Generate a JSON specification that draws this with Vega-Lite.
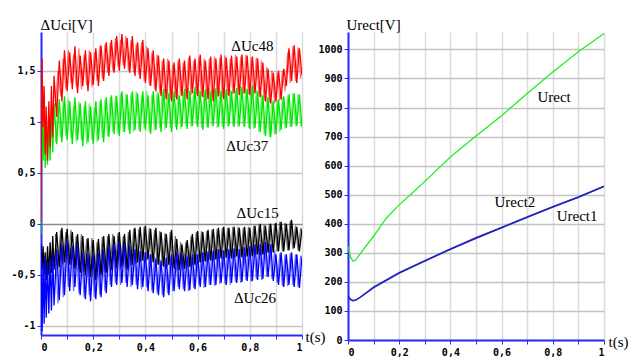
{
  "$schema": "https://vega.github.io/schema/vega-lite/v6.json",
  "background": "white",
  "padding": {"left": 10, "top": 17, "right": 0, "bottom": 0},
  "spacing": 46,
  "bounds": "flush",
  "resolve": {"scale": {"color": "independent"}},
  "config": {
    "view": {"stroke": null},
    "axis": {
      "domainColor": "#2b2bff", "domainWidth": 2, "tickColor": "#2b2bff", "tickSize": 4,
      "labelFont": "DejaVu Sans Mono", "labelFontWeight": "bold", "labelFontSize": 10, "labelColor": "#000000",
      "labelPadding": 2, "gridWidth": 1.5, "labelOverlap": false,
      "titleFont": "'Liberation Serif', 'Times New Roman', serif", "titleFontSize": 15, "titleFontWeight": "normal", "titleColor": "#000000"
    },
    "text": {"font": "'Liberation Serif', 'Times New Roman', serif", "fontSize": 15, "color": "#000000"}
  },
  "hconcat": [
    {
      "width": 261, "height": 303,
      "encoding": {
        "x": {"field": "t", "type": "quantitative",
          "scale": {"domain": [0, 1], "nice": false},
          "axis": {"values": [0,0.1,0.2,0.3,0.4,0.5,0.6,0.7,0.8,0.9,1],
            "labelExpr": "indexof(['0','0.2','0.4','0.6','0.8','1'], toString(datum.value)) >= 0 ? replace(toString(datum.value), '.', ',') : ''",
            "grid": true, "gridColor": "#dadada", "labelPadding": 3, "labelOverlap": false,
            "title": "t(s)", "titleX": 264, "titleY": 1, "titleAlign": "left", "titleBaseline": "middle", "titleAngle": 0}},
        "y": {"field": "v", "type": "quantitative",
          "scale": {"domain": [-1.09, 1.88], "nice": false, "zero": false},
          "axis": {"values": [-1, -0.5, 0, 0.5, 1, 1.5],
            "labelExpr": "replace(toString(datum.value), '.', ',')", "labelOverlap": false,
            "grid": true, "gridColor": {"condition": {"test": "datum.value === 0", "value": "#8a8a8a"}, "value": "#c4c4c4"},
            "title": "ΔUci[V]", "titleX": -1, "titleY": -3, "titleAlign": "left", "titleBaseline": "alphabetic", "titleAngle": 0}}
      },
      "layer": [
        {
          "data": {"values": [
            {"t":0.055,"a2":1.15,"b2":0.8,"c2":-0.1,"d2":-0.28},
            {"t":0.065,"a2":1.5,"b2":1.15,"c2":-0.44,"d2":-0.78},
            {"t":0.075,"a2":1.25,"b2":0.85,"c2":-0.06,"d2":-0.22},
            {"t":0.085,"a2":1.62,"b2":1.2,"c2":-0.4,"d2":-0.72},
            {"t":0.095,"a2":1.32,"b2":0.86,"c2":-0.08,"d2":-0.2},
            {"t":0.105,"a2":1.7,"b2":1.22,"c2":-0.38,"d2":-0.62},
            {"t":0.115,"a2":1.38,"b2":0.84,"c2":-0.06,"d2":-0.24},
            {"t":0.125,"a2":1.66,"b2":1.16,"c2":-0.42,"d2":-0.66},
            {"t":0.135,"a2":1.34,"b2":0.8,"c2":-0.12,"d2":-0.22},
            {"t":0.145,"a2":1.72,"b2":1.2,"c2":-0.45,"d2":-0.68},
            {"t":0.155,"a2":1.32,"b2":0.82,"c2":-0.1,"d2":-0.26},
            {"t":0.165,"a2":1.66,"b2":1.16,"c2":-0.47,"d2":-0.72},
            {"t":0.175,"a2":1.36,"b2":0.78,"c2":-0.15,"d2":-0.3},
            {"t":0.185,"a2":1.7,"b2":1.18,"c2":-0.5,"d2":-0.7},
            {"t":0.195,"a2":1.34,"b2":0.82,"c2":-0.14,"d2":-0.32},
            {"t":0.205,"a2":1.68,"b2":1.14,"c2":-0.52,"d2":-0.72},
            {"t":0.215,"a2":1.4,"b2":0.8,"c2":-0.18,"d2":-0.3},
            {"t":0.225,"a2":1.74,"b2":1.2,"c2":-0.5,"d2":-0.7},
            {"t":0.235,"a2":1.42,"b2":0.84,"c2":-0.13,"d2":-0.26},
            {"t":0.245,"a2":1.76,"b2":1.22,"c2":-0.47,"d2":-0.66},
            {"t":0.255,"a2":1.48,"b2":0.86,"c2":-0.12,"d2":-0.22},
            {"t":0.265,"a2":1.78,"b2":1.24,"c2":-0.44,"d2":-0.6},
            {"t":0.275,"a2":1.5,"b2":0.9,"c2":-0.1,"d2":-0.2},
            {"t":0.285,"a2":1.82,"b2":1.26,"c2":-0.42,"d2":-0.58},
            {"t":0.295,"a2":1.54,"b2":0.88,"c2":-0.09,"d2":-0.2},
            {"t":0.305,"a2":1.8,"b2":1.28,"c2":-0.44,"d2":-0.6},
            {"t":0.315,"a2":1.55,"b2":0.9,"c2":-0.12,"d2":-0.22},
            {"t":0.325,"a2":1.84,"b2":1.27,"c2":-0.43,"d2":-0.58},
            {"t":0.335,"a2":1.5,"b2":0.92,"c2":-0.08,"d2":-0.24},
            {"t":0.345,"a2":1.8,"b2":1.28,"c2":-0.41,"d2":-0.62},
            {"t":0.355,"a2":1.48,"b2":0.9,"c2":-0.05,"d2":-0.24},
            {"t":0.365,"a2":1.76,"b2":1.3,"c2":-0.39,"d2":-0.6},
            {"t":0.375,"a2":1.46,"b2":0.92,"c2":-0.05,"d2":-0.26},
            {"t":0.385,"a2":1.78,"b2":1.26,"c2":-0.37,"d2":-0.64},
            {"t":0.395,"a2":1.4,"b2":0.94,"c2":-0.03,"d2":-0.28},
            {"t":0.405,"a2":1.74,"b2":1.3,"c2":-0.36,"d2":-0.62},
            {"t":0.415,"a2":1.36,"b2":0.9,"c2":-0.04,"d2":-0.3},
            {"t":0.425,"a2":1.68,"b2":1.27,"c2":-0.37,"d2":-0.66},
            {"t":0.435,"a2":1.32,"b2":0.92,"c2":-0.06,"d2":-0.32},
            {"t":0.445,"a2":1.66,"b2":1.3,"c2":-0.4,"d2":-0.68},
            {"t":0.455,"a2":1.28,"b2":0.94,"c2":-0.07,"d2":-0.35},
            {"t":0.465,"a2":1.6,"b2":1.3,"c2":-0.41,"d2":-0.7},
            {"t":0.475,"a2":1.24,"b2":0.92,"c2":-0.09,"d2":-0.34},
            {"t":0.485,"a2":1.62,"b2":1.32,"c2":-0.42,"d2":-0.68},
            {"t":0.495,"a2":1.22,"b2":0.94,"c2":-0.08,"d2":-0.32},
            {"t":0.505,"a2":1.56,"b2":1.28,"c2":-0.42,"d2":-0.66},
            {"t":0.515,"a2":1.24,"b2":0.95,"c2":-0.12,"d2":-0.3},
            {"t":0.525,"a2":1.6,"b2":1.3,"c2":-0.46,"d2":-0.62},
            {"t":0.535,"a2":1.26,"b2":0.93,"c2":-0.18,"d2":-0.28},
            {"t":0.545,"a2":1.58,"b2":1.3,"c2":-0.45,"d2":-0.64},
            {"t":0.555,"a2":1.24,"b2":0.96,"c2":-0.18,"d2":-0.3},
            {"t":0.565,"a2":1.63,"b2":1.33,"c2":-0.43,"d2":-0.66},
            {"t":0.575,"a2":1.26,"b2":0.95,"c2":-0.12,"d2":-0.32},
            {"t":0.585,"a2":1.6,"b2":1.3,"c2":-0.41,"d2":-0.63},
            {"t":0.595,"a2":1.27,"b2":0.97,"c2":-0.08,"d2":-0.3},
            {"t":0.605,"a2":1.64,"b2":1.32,"c2":-0.38,"d2":-0.6},
            {"t":0.615,"a2":1.25,"b2":0.94,"c2":-0.07,"d2":-0.27},
            {"t":0.625,"a2":1.62,"b2":1.3,"c2":-0.37,"d2":-0.63},
            {"t":0.635,"a2":1.23,"b2":0.95,"c2":-0.07,"d2":-0.28},
            {"t":0.645,"a2":1.62,"b2":1.33,"c2":-0.35,"d2":-0.6},
            {"t":0.655,"a2":1.22,"b2":0.96,"c2":-0.06,"d2":-0.27},
            {"t":0.665,"a2":1.64,"b2":1.31,"c2":-0.36,"d2":-0.61},
            {"t":0.675,"a2":1.24,"b2":0.94,"c2":-0.05,"d2":-0.25},
            {"t":0.685,"a2":1.63,"b2":1.33,"c2":-0.33,"d2":-0.59},
            {"t":0.695,"a2":1.24,"b2":0.95,"c2":-0.04,"d2":-0.26},
            {"t":0.705,"a2":1.65,"b2":1.31,"c2":-0.34,"d2":-0.59},
            {"t":0.715,"a2":1.26,"b2":0.95,"c2":-0.04,"d2":-0.24},
            {"t":0.725,"a2":1.62,"b2":1.32,"c2":-0.33,"d2":-0.6},
            {"t":0.735,"a2":1.27,"b2":0.96,"c2":-0.03,"d2":-0.25},
            {"t":0.745,"a2":1.66,"b2":1.31,"c2":-0.33,"d2":-0.57},
            {"t":0.755,"a2":1.27,"b2":0.95,"c2":-0.03,"d2":-0.24},
            {"t":0.765,"a2":1.64,"b2":1.35,"c2":-0.32,"d2":-0.58},
            {"t":0.775,"a2":1.27,"b2":0.96,"c2":-0.04,"d2":-0.23},
            {"t":0.785,"a2":1.66,"b2":1.33,"c2":-0.33,"d2":-0.55},
            {"t":0.795,"a2":1.27,"b2":0.94,"c2":-0.03,"d2":-0.22},
            {"t":0.805,"a2":1.63,"b2":1.34,"c2":-0.31,"d2":-0.57},
            {"t":0.815,"a2":1.26,"b2":0.93,"c2":-0.02,"d2":-0.2},
            {"t":0.825,"a2":1.63,"b2":1.32,"c2":-0.3,"d2":-0.54},
            {"t":0.835,"a2":1.25,"b2":0.9,"c2":-0.01,"d2":-0.19},
            {"t":0.845,"a2":1.6,"b2":1.28,"c2":-0.31,"d2":-0.55},
            {"t":0.855,"a2":1.21,"b2":0.87,"c2":-0.01,"d2":-0.18},
            {"t":0.865,"a2":1.54,"b2":1.25,"c2":-0.29,"d2":-0.52},
            {"t":0.875,"a2":1.19,"b2":0.85,"c2":0.0,"d2":-0.19},
            {"t":0.885,"a2":1.5,"b2":1.22,"c2":-0.28,"d2":-0.54},
            {"t":0.895,"a2":1.18,"b2":0.87,"c2":0.0,"d2":-0.25},
            {"t":0.905,"a2":1.48,"b2":1.21,"c2":-0.27,"d2":-0.58},
            {"t":0.915,"a2":1.21,"b2":0.9,"c2":0.02,"d2":-0.29},
            {"t":0.925,"a2":1.5,"b2":1.24,"c2":-0.27,"d2":-0.61},
            {"t":0.935,"a2":1.3,"b2":0.93,"c2":0.01,"d2":-0.3},
            {"t":0.945,"a2":1.68,"b2":1.26,"c2":-0.26,"d2":-0.61},
            {"t":0.955,"a2":1.38,"b2":0.95,"c2":0.03,"d2":-0.29},
            {"t":0.965,"a2":1.74,"b2":1.28,"c2":-0.25,"d2":-0.6},
            {"t":0.975,"a2":1.4,"b2":0.96,"c2":-0.02,"d2":-0.3},
            {"t":0.985,"a2":1.73,"b2":1.27,"c2":-0.26,"d2":-0.62},
            {"t":0.995,"a2":1.42,"b2":0.96,"c2":-0.04,"d2":-0.31}
          ]},
          "transform": [{"fold": ["b2", "a2", "c2", "d2"], "as": ["s", "v"]}],
          "mark": {"type": "line", "strokeWidth": 1.2, "opacity": 0.55, "clip": true},
          "encoding": {
            "color": {"field": "s", "type": "nominal",
              "scale": {"domain": ["a", "b", "c", "d", "a2", "b2", "c2", "d2"], "range": ["#ff0000", "#00e600", "#000000", "#0000ff", "#ff0000", "#00e600", "#000000", "#0000ff"]},
              "legend": null}
          }
        },
        {
          "data": {"values": [
            {"t":0,"a":0.02,"b":-0.1,"c":-0.2,"d":-0.2},
            {"t":0.004,"a":1.62,"b":1.3,"c":-0.45,"d":-1.05},
            {"t":0.008,"a":0.95,"b":0.62,"c":-0.22,"d":-0.38},
            {"t":0.012,"a":1.35,"b":1.05,"c":-0.5,"d":-0.98},
            {"t":0.016,"a":0.68,"b":0.55,"c":-0.28,"d":-0.32},
            {"t":0.02,"a":1.15,"b":0.9,"c":-0.55,"d":-0.92},
            {"t":0.025,"a":0.62,"b":0.58,"c":-0.22,"d":-0.4},
            {"t":0.03,"a":1.2,"b":1.05,"c":-0.5,"d":-0.88},
            {"t":0.035,"a":0.75,"b":0.62,"c":-0.18,"d":-0.33},
            {"t":0.04,"a":1.35,"b":1.12,"c":-0.48,"d":-0.85},
            {"t":0.045,"a":0.85,"b":0.7,"c":-0.12,"d":-0.3},
            {"t":0.05,"a":1.45,"b":1.18,"c":-0.45,"d":-0.8},
            {"t":0.06,"a":1.05,"b":0.78,"c":-0.08,"d":-0.25},
            {"t":0.07,"a":1.6,"b":1.22,"c":-0.42,"d":-0.75},
            {"t":0.08,"a":1.2,"b":0.8,"c":-0.04,"d":-0.2},
            {"t":0.09,"a":1.7,"b":1.25,"c":-0.38,"d":-0.7},
            {"t":0.1,"a":1.3,"b":0.82,"c":-0.05,"d":-0.17},
            {"t":0.11,"a":1.68,"b":1.2,"c":-0.4,"d":-0.66},
            {"t":0.12,"a":1.32,"b":0.78,"c":-0.08,"d":-0.22},
            {"t":0.13,"a":1.74,"b":1.24,"c":-0.44,"d":-0.62},
            {"t":0.14,"a":1.28,"b":0.82,"c":-0.1,"d":-0.2},
            {"t":0.15,"a":1.65,"b":1.18,"c":-0.48,"d":-0.7},
            {"t":0.16,"a":1.35,"b":0.76,"c":-0.12,"d":-0.28},
            {"t":0.17,"a":1.7,"b":1.2,"c":-0.5,"d":-0.74},
            {"t":0.18,"a":1.3,"b":0.8,"c":-0.14,"d":-0.3},
            {"t":0.19,"a":1.68,"b":1.15,"c":-0.52,"d":-0.76},
            {"t":0.2,"a":1.36,"b":0.78,"c":-0.16,"d":-0.3},
            {"t":0.21,"a":1.72,"b":1.2,"c":-0.55,"d":-0.74},
            {"t":0.22,"a":1.35,"b":0.82,"c":-0.15,"d":-0.28},
            {"t":0.23,"a":1.75,"b":1.22,"c":-0.5,"d":-0.72},
            {"t":0.24,"a":1.4,"b":0.8,"c":-0.12,"d":-0.26},
            {"t":0.25,"a":1.78,"b":1.24,"c":-0.48,"d":-0.68},
            {"t":0.26,"a":1.45,"b":0.85,"c":-0.1,"d":-0.22},
            {"t":0.27,"a":1.8,"b":1.26,"c":-0.45,"d":-0.62},
            {"t":0.28,"a":1.48,"b":0.88,"c":-0.12,"d":-0.2},
            {"t":0.29,"a":1.84,"b":1.25,"c":-0.43,"d":-0.6},
            {"t":0.3,"a":1.5,"b":0.86,"c":-0.08,"d":-0.18},
            {"t":0.31,"a":1.86,"b":1.3,"c":-0.42,"d":-0.58},
            {"t":0.32,"a":1.52,"b":0.9,"c":-0.1,"d":-0.2},
            {"t":0.33,"a":1.82,"b":1.27,"c":-0.45,"d":-0.62},
            {"t":0.34,"a":1.48,"b":0.88,"c":-0.06,"d":-0.22},
            {"t":0.35,"a":1.84,"b":1.3,"c":-0.4,"d":-0.6},
            {"t":0.36,"a":1.45,"b":0.92,"c":-0.04,"d":-0.25},
            {"t":0.37,"a":1.78,"b":1.28,"c":-0.38,"d":-0.64},
            {"t":0.38,"a":1.42,"b":0.9,"c":-0.03,"d":-0.27},
            {"t":0.39,"a":1.8,"b":1.3,"c":-0.36,"d":-0.62},
            {"t":0.4,"a":1.38,"b":0.92,"c":-0.02,"d":-0.28},
            {"t":0.41,"a":1.72,"b":1.26,"c":-0.35,"d":-0.66},
            {"t":0.42,"a":1.35,"b":0.88,"c":-0.05,"d":-0.3},
            {"t":0.43,"a":1.7,"b":1.3,"c":-0.38,"d":-0.68},
            {"t":0.44,"a":1.3,"b":0.92,"c":-0.04,"d":-0.34},
            {"t":0.45,"a":1.65,"b":1.28,"c":-0.4,"d":-0.7},
            {"t":0.46,"a":1.25,"b":0.9,"c":-0.08,"d":-0.36},
            {"t":0.47,"a":1.62,"b":1.32,"c":-0.42,"d":-0.72},
            {"t":0.48,"a":1.22,"b":0.94,"c":-0.1,"d":-0.33},
            {"t":0.49,"a":1.6,"b":1.28,"c":-0.4,"d":-0.7},
            {"t":0.5,"a":1.2,"b":0.9,"c":-0.06,"d":-0.3},
            {"t":0.51,"a":1.58,"b":1.3,"c":-0.44,"d":-0.66},
            {"t":0.52,"a":1.22,"b":0.92,"c":-0.15,"d":-0.28},
            {"t":0.53,"a":1.62,"b":1.26,"c":-0.45,"d":-0.64},
            {"t":0.54,"a":1.25,"b":0.95,"c":-0.2,"d":-0.3},
            {"t":0.55,"a":1.6,"b":1.32,"c":-0.44,"d":-0.66},
            {"t":0.56,"a":1.22,"b":0.93,"c":-0.16,"d":-0.32},
            {"t":0.57,"a":1.65,"b":1.3,"c":-0.42,"d":-0.65},
            {"t":0.58,"a":1.28,"b":0.96,"c":-0.1,"d":-0.3},
            {"t":0.59,"a":1.62,"b":1.34,"c":-0.4,"d":-0.64},
            {"t":0.6,"a":1.25,"b":0.95,"c":-0.07,"d":-0.3},
            {"t":0.61,"a":1.66,"b":1.3,"c":-0.38,"d":-0.62},
            {"t":0.62,"a":1.24,"b":0.92,"c":-0.08,"d":-0.28},
            {"t":0.63,"a":1.6,"b":1.32,"c":-0.37,"d":-0.62},
            {"t":0.64,"a":1.22,"b":0.94,"c":-0.06,"d":-0.27},
            {"t":0.65,"a":1.64,"b":1.3,"c":-0.36,"d":-0.6},
            {"t":0.66,"a":1.2,"b":0.96,"c":-0.05,"d":-0.26},
            {"t":0.67,"a":1.62,"b":1.33,"c":-0.35,"d":-0.6},
            {"t":0.68,"a":1.25,"b":0.95,"c":-0.04,"d":-0.25},
            {"t":0.69,"a":1.66,"b":1.3,"c":-0.34,"d":-0.58},
            {"t":0.7,"a":1.22,"b":0.93,"c":-0.03,"d":-0.26},
            {"t":0.71,"a":1.63,"b":1.32,"c":-0.33,"d":-0.6},
            {"t":0.72,"a":1.25,"b":0.96,"c":-0.04,"d":-0.25},
            {"t":0.73,"a":1.65,"b":1.3,"c":-0.34,"d":-0.58},
            {"t":0.74,"a":1.28,"b":0.95,"c":-0.03,"d":-0.24},
            {"t":0.75,"a":1.64,"b":1.33,"c":-0.32,"d":-0.58},
            {"t":0.76,"a":1.26,"b":0.96,"c":-0.04,"d":-0.25},
            {"t":0.77,"a":1.66,"b":1.34,"c":-0.33,"d":-0.57},
            {"t":0.78,"a":1.28,"b":0.95,"c":-0.03,"d":-0.23},
            {"t":0.79,"a":1.65,"b":1.32,"c":-0.32,"d":-0.56},
            {"t":0.8,"a":1.26,"b":0.93,"c":-0.04,"d":-0.22},
            {"t":0.81,"a":1.64,"b":1.36,"c":-0.32,"d":-0.56},
            {"t":0.82,"a":1.28,"b":0.94,"c":-0.02,"d":-0.2},
            {"t":0.83,"a":1.62,"b":1.3,"c":-0.3,"d":-0.55},
            {"t":0.84,"a":1.24,"b":0.9,"c":0.0,"d":-0.2},
            {"t":0.85,"a":1.58,"b":1.26,"c":-0.3,"d":-0.54},
            {"t":0.86,"a":1.2,"b":0.86,"c":-0.02,"d":-0.18},
            {"t":0.87,"a":1.52,"b":1.24,"c":-0.28,"d":-0.52},
            {"t":0.88,"a":1.18,"b":0.85,"c":0.0,"d":-0.2},
            {"t":0.89,"a":1.48,"b":1.2,"c":-0.28,"d":-0.56},
            {"t":0.9,"a":1.2,"b":0.88,"c":0.01,"d":-0.3},
            {"t":0.91,"a":1.5,"b":1.22,"c":-0.27,"d":-0.6},
            {"t":0.92,"a":1.22,"b":0.92,"c":0.02,"d":-0.28},
            {"t":0.93,"a":1.52,"b":1.25,"c":-0.27,"d":-0.62},
            {"t":0.94,"a":1.35,"b":0.94,"c":0.0,"d":-0.3},
            {"t":0.95,"a":1.72,"b":1.27,"c":-0.26,"d":-0.6},
            {"t":0.96,"a":1.4,"b":0.95,"c":0.04,"d":-0.28},
            {"t":0.97,"a":1.75,"b":1.28,"c":-0.24,"d":-0.62},
            {"t":0.98,"a":1.38,"b":0.96,"c":-0.03,"d":-0.3},
            {"t":0.99,"a":1.72,"b":1.27,"c":-0.27,"d":-0.63},
            {"t":1.0,"a":1.45,"b":0.95,"c":-0.05,"d":-0.32}
          ]},
          "transform": [{"fold": ["b", "a", "c", "d"], "as": ["s", "v"]}],
          "mark": {"type": "line", "strokeWidth": 1.3, "clip": true},
          "encoding": {
            "color": {"field": "s", "type": "nominal",
              "scale": {"domain": ["a", "b", "c", "d", "a2", "b2", "c2", "d2"], "range": ["#ff0000", "#00e600", "#000000", "#0000ff", "#ff0000", "#00e600", "#000000", "#0000ff"]},
              "legend": null}
          }
        },
        {
          "data": {"values": [
            {"t": 0.81, "v": 1.745, "l": "ΔUc48"},
            {"t": 0.79, "v": 0.765, "l": "ΔUc37"},
            {"t": 0.83, "v": 0.11, "l": "ΔUc15"},
            {"t": 0.82, "v": -0.73, "l": "ΔUc26"}
          ]},
          "mark": {"type": "text", "align": "center", "baseline": "middle"},
          "encoding": {
            "text": {"field": "l", "type": "nominal"}
          }
        }
      ]
    },
    {
      "width": 256, "height": 308,
      "encoding": {
        "x": {"field": "t", "type": "quantitative",
          "scale": {"domain": [0, 1], "nice": false},
          "axis": {"values": [0,0.1,0.2,0.3,0.4,0.5,0.6,0.7,0.8,0.9,1],
            "labelExpr": "indexof(['0','0.2','0.4','0.6','0.8','1'], toString(datum.value)) >= 0 ? replace(toString(datum.value), '.', ',') : ''",
            "grid": true, "gridColor": "#dadada", "labelPadding": 3, "labelOverlap": false,
            "title": "t(s)", "titleX": 260, "titleY": 1, "titleAlign": "left", "titleBaseline": "middle", "titleAngle": 0}},
        "y": {"field": "v", "type": "quantitative",
          "scale": {"domain": [0, 1060], "nice": false},
          "axis": {"values": [0,100,200,300,400,500,600,700,800,900,1000], "format": "d", "labelOverlap": false,
            "grid": true, "gridColor": "#c4c4c4",
            "title": "Urect[V]", "titleX": -2, "titleY": -3, "titleAlign": "left", "titleBaseline": "alphabetic", "titleAngle": 0}}
      },
      "layer": [
        {
          "data": {"values": [
            {"t":0,"e":323,"f":152,"g":150},
            {"t":0.01,"e":285,"f":140,"g":139},
            {"t":0.02,"e":271,"f":136,"g":135},
            {"t":0.03,"e":275,"f":137,"g":137},
            {"t":0.05,"e":300,"f":148,"g":149},
            {"t":0.1,"e":357,"f":180,"g":182},
            {"t":0.15,"e":420,"f":205,"g":207},
            {"t":0.2,"e":465,"f":230,"g":232},
            {"t":0.25,"e":505,"f":251,"g":253},
            {"t":0.3,"e":546,"f":271,"g":273},
            {"t":0.4,"e":630,"f":312,"g":314},
            {"t":0.5,"e":702,"f":350,"g":352},
            {"t":0.6,"e":772,"f":386,"g":388},
            {"t":0.7,"e":848,"f":422,"g":424},
            {"t":0.8,"e":922,"f":457,"g":459},
            {"t":0.9,"e":992,"f":491,"g":493},
            {"t":1.0,"e":1055,"f":528,"g":530}
          ]},
          "transform": [{"fold": ["e", "f", "g"], "as": ["s", "v"]}],
          "mark": {"type": "line", "strokeWidth": 1.3, "clip": true},
          "encoding": {
            "color": {"field": "s", "type": "nominal",
              "scale": {"domain": ["e", "f", "g"], "range": ["#22ee22", "#1a1a9c", "#2424c8"]},
              "legend": null}
          }
        },
        {
          "data": {"values": [
            {"t": 0.805, "v": 838, "l": "Urect"},
            {"t": 0.652, "v": 474, "l": "Urect2"},
            {"t": 0.895, "v": 426, "l": "Urect1"}
          ]},
          "mark": {"type": "text", "align": "center", "baseline": "middle"},
          "encoding": {
            "text": {"field": "l", "type": "nominal"}
          }
        }
      ]
    }
  ]
}
